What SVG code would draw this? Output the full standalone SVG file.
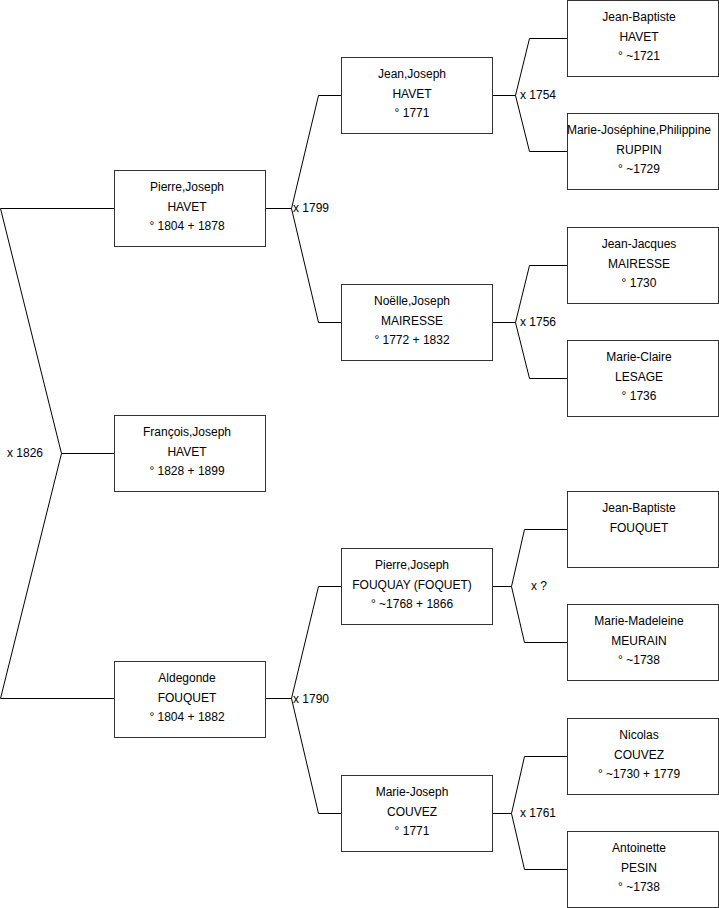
<svg xmlns="http://www.w3.org/2000/svg" width="719" height="908" viewBox="0 0 719 908">
<style>
.box rect{fill:#fff;stroke:#333;stroke-width:1}
text{font-family:"Liberation Sans",Arial,sans-serif;font-size:12px;fill:#000}
.box text{text-anchor:middle}
.c{fill:none;stroke:#000;stroke-width:1}
</style>
<rect width="719" height="908" fill="#fff"/>
<g id="connectors" class="c">
<path d="M114,208.5H0.5L61.5,453.5L0.5,698.5H114M61.5,453.5H114"/>
<path d="M265,208.5H291.5L318.5,95.5H341M291.5,208.5L318.5,322.5H341"/>
<path d="M265,698.5H291.5L318.5,586.5H341M291.5,698.5L318.5,813.5H341"/>
<path d="M492,95.5H515.5L529.5,38.5H567M515.5,95.5L529.5,151.5H567"/>
<path d="M492,322.5H515.5L529.5,265.5H567M515.5,322.5L529.5,378.5H567"/>
<path d="M492,586.5H511.5L524.5,529.5H567M511.5,586.5L524.5,642.5H567"/>
<path d="M492,813.5H511.5L524.5,756.5H567M511.5,813.5L524.5,869.5H567"/>
</g>
<g id="labels">
<text x="7" y="457">x 1826</text>
<text x="293" y="212">x 1799</text>
<text x="293" y="703">x 1790</text>
<text x="520" y="99">x 1754</text>
<text x="520" y="326">x 1756</text>
<text x="531" y="590">x ?</text>
<text x="520" y="817">x 1761</text>
</g>
<g id="n1" class="box"><rect x="114.5" y="170.5" width="151" height="76"/><text x="187" y="191">Pierre,Joseph</text><text x="187" y="211">HAVET</text><text x="187" y="230">° 1804 + 1878</text></g>
<g id="n2" class="box"><rect x="114.5" y="415.5" width="151" height="76"/><text x="187" y="436">François,Joseph</text><text x="187" y="456">HAVET</text><text x="187" y="475">° 1828 + 1899</text></g>
<g id="n3" class="box"><rect x="114.5" y="661.5" width="151" height="76"/><text x="187" y="682">Aldegonde</text><text x="187" y="702">FOUQUET</text><text x="187" y="721">° 1804 + 1882</text></g>
<g id="n4" class="box"><rect x="341.5" y="57.5" width="151" height="76"/><text x="412" y="78">Jean,Joseph</text><text x="412" y="98">HAVET</text><text x="412" y="117">° 1771</text></g>
<g id="n5" class="box"><rect x="341.5" y="284.5" width="151" height="76"/><text x="412" y="305">Noëlle,Joseph</text><text x="412" y="325">MAIRESSE</text><text x="412" y="344">° 1772 + 1832</text></g>
<g id="n6" class="box"><rect x="341.5" y="548.5" width="151" height="76"/><text x="412" y="569">Pierre,Joseph</text><text x="412" y="589">FOUQUAY (FOQUET)</text><text x="412" y="608">° ~1768 + 1866</text></g>
<g id="n7" class="box"><rect x="341.5" y="775.5" width="151" height="76"/><text x="412" y="796">Marie-Joseph</text><text x="412" y="816">COUVEZ</text><text x="412" y="835">° 1771</text></g>
<g id="n8" class="box"><rect x="567.5" y="0.5" width="151" height="76"/><text x="639" y="21">Jean-Baptiste</text><text x="639" y="41">HAVET</text><text x="639" y="60">° ~1721</text></g>
<g id="n9" class="box"><rect x="567.5" y="113.5" width="151" height="76"/><text x="639" y="134">Marie-Joséphine,Philippine</text><text x="639" y="154">RUPPIN</text><text x="639" y="173">° ~1729</text></g>
<g id="n10" class="box"><rect x="567.5" y="227.5" width="151" height="76"/><text x="639" y="248">Jean-Jacques</text><text x="639" y="268">MAIRESSE</text><text x="639" y="287">° 1730</text></g>
<g id="n11" class="box"><rect x="567.5" y="340.5" width="151" height="76"/><text x="639" y="361">Marie-Claire</text><text x="639" y="381">LESAGE</text><text x="639" y="400">° 1736</text></g>
<g id="n12" class="box"><rect x="567.5" y="491.5" width="151" height="76"/><text x="639" y="512">Jean-Baptiste</text><text x="639" y="532">FOUQUET</text></g>
<g id="n13" class="box"><rect x="567.5" y="604.5" width="151" height="76"/><text x="639" y="625">Marie-Madeleine</text><text x="639" y="645">MEURAIN</text><text x="639" y="664">° ~1738</text></g>
<g id="n14" class="box"><rect x="567.5" y="718.5" width="151" height="76"/><text x="639" y="739">Nicolas</text><text x="639" y="759">COUVEZ</text><text x="639" y="778">° ~1730 + 1779</text></g>
<g id="n15" class="box"><rect x="567.5" y="831.5" width="151" height="76"/><text x="639" y="852">Antoinette</text><text x="639" y="872">PESIN</text><text x="639" y="891">° ~1738</text></g>
</svg>
